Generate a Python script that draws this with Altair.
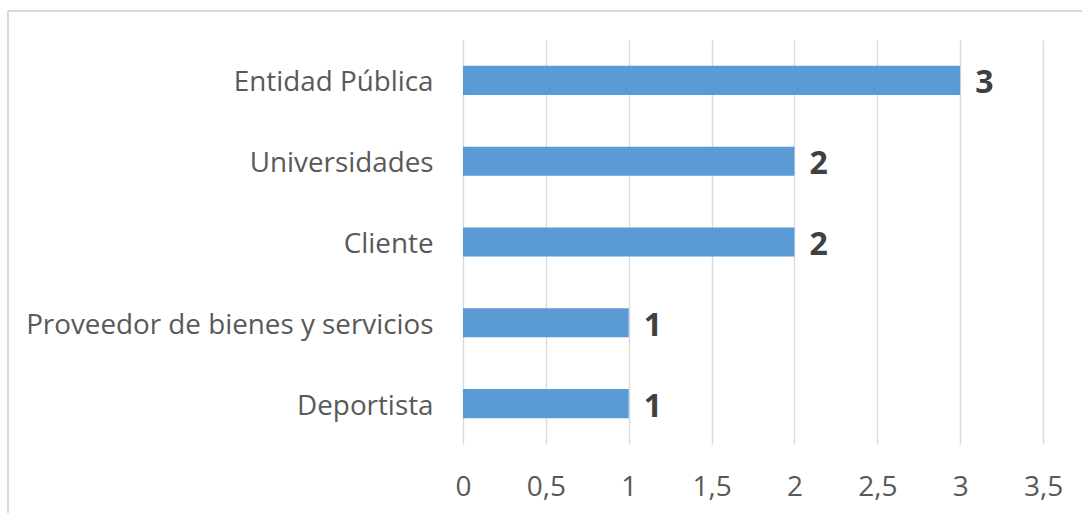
import altair as alt
import pandas as pd

categories = ["Entidad Pública", "Universidades", "Cliente", "Proveedor de bienes y servicios", "Deportista"]
values = [3, 2, 2, 1, 1]
x_ticks = [0, 0.5, 1, 1.5, 2, 2.5, 3, 3.5]

df = pd.DataFrame({"categoria": categories, "valor": values})

FONT = "Open Sans"

base = alt.Chart(df).encode(
    y=alt.Y(
        "categoria:N",
        sort=None,
        scale=alt.Scale(paddingInner=0.64, paddingOuter=0.32),
        axis=alt.Axis(
            title=None, domain=False, ticks=False, labelPadding=30, labelOffset=3,
            labelFont=FONT, labelFontSize=27.8, labelColor="#595959", labelLimit=600,
        ),
    ),
    x=alt.X(
        "valor:Q",
        scale=alt.Scale(domain=[0, 3.5], nice=False),
        axis=alt.Axis(
            title=None, values=x_ticks, domain=False, ticks=False, labelPadding=29,
            labelFlush=False, labelOverlap=False,
            labelExpr="replace(toString(datum.value), '.', ',')",
            labelFont=FONT, labelFontSize=28, labelColor="#595959",
            grid=True, gridColor="#d9d9d9", gridWidth=1.4,
        ),
    ),
)

bars = base.mark_bar(color="#5B9BD5")
labels = base.mark_text(
    align="left", baseline="middle", dx=15, dy=3, font=FONT, fontSize=32,
    fontWeight="bold", color="#404040",
).encode(text="valor:Q")

frame_top = alt.Chart(df).mark_rule(color="#d9d9d9", strokeWidth=1.4).encode(
    x=alt.value(-455), x2=alt.value(700), y=alt.value(-29)
)
frame_left = alt.Chart(df).mark_rule(color="#d9d9d9", strokeWidth=1.4).encode(
    x=alt.value(-455), y=alt.value(-29), y2=alt.value(600)
)

chart = alt.layer(frame_top, frame_left, bars, labels).properties(
    width=580,
    height=404,
    background="white",
    autosize=alt.AutoSizeParams(type="none"),
    padding={"left": 463, "top": 40, "right": 39, "bottom": 69},
).configure_view(stroke=None)

chart.save("out.html", embed_options={"renderer": "svg", "actions": False})
